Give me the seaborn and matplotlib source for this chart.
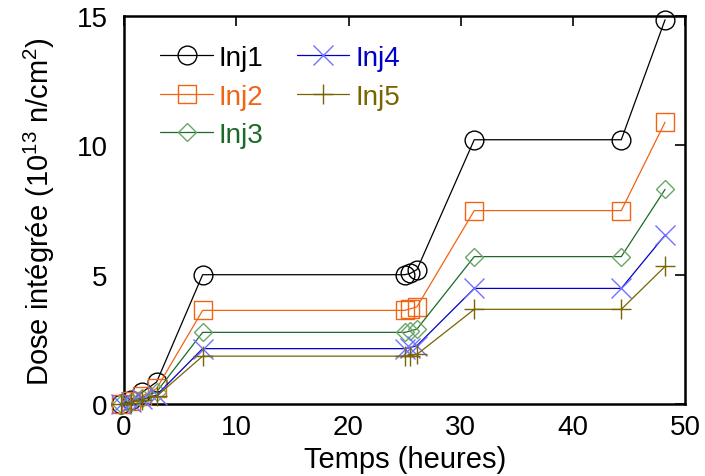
import matplotlib
matplotlib.use("Agg")
import matplotlib.pyplot as plt
import seaborn as sns
import pandas as pd
from matplotlib.lines import Line2D

# ---- data ----
temps = [-0.3, 0.6, 1.6, 2.9, 7.0, 25.0, 25.5, 26.1, 31.2, 44.3, 48.2]
inj1 = [0.0, 0.15, 0.45, 0.85, 5.0, 5.0, 5.05, 5.2, 10.22, 10.22, 14.86]
inj2 = [0.0, 0.10, 0.30, 0.60, 3.62, 3.62, 3.68, 3.76, 7.48, 7.48, 10.9]
inj3 = [0.0, 0.08, 0.25, 0.47, 2.77, 2.77, 2.82, 2.9, 5.70, 5.70, 8.30]
inj4 = [0.0, 0.06, 0.18, 0.34, 2.14, 2.14, 2.18, 2.26, 4.47, 4.47, 6.53]
inj5 = [0.0, 0.05, 0.16, 0.30, 1.85, 1.85, 1.87, 1.92, 3.66, 3.66, 5.32]
series_names = ["Inj1", "Inj2", "Inj3", "Inj4", "Inj5"]
x_ticks = [0, 10, 20, 30, 40, 50]
y_ticks = [0, 5, 10, 15]

sns.set_theme(style="white")
plt.rcParams["font.family"] = ["Liberation Sans", "DejaVu Sans"]
plt.rcParams["mathtext.fontset"] = "custom"
plt.rcParams["mathtext.rm"] = "Liberation Sans"
plt.rcParams["mathtext.it"] = "Liberation Sans"
plt.rcParams["text.color"] = "black"
plt.rcParams["axes.labelcolor"] = "black"

fig = plt.figure(figsize=(7.05, 4.77), dpi=100)
ax = fig.add_axes([0.176, 0.151, 0.796, 0.813])

values = [inj1, inj2, inj3, inj4, inj5]
line_colors = ["#000000", "#f06414", "#1a6b2a", "#0000c8", "#786400"]
marker_colors = ["#000000", "#f06414", "#6aa66a", "#7070ff", "#786400"]
text_colors = ["#000000", "#f06414", "#1a6b2a", "#0000c8", "#786400"]
markers = ["o", "s", "D", "x", "+"]
msizes = [13.5, 13.0, 9.5, 14.0, 14.0]

for name, vals, lc, mc, m, ms in zip(series_names, values, line_colors,
                                     marker_colors, markers, msizes):
    df = pd.DataFrame({"t": temps, "v": vals})
    sns.lineplot(data=df, x="t", y="v", ax=ax, color=lc, lw=0.9,
                 marker=m, markersize=ms, markerfacecolor="none",
                 markeredgecolor=mc, markeredgewidth=1.0, legend=False,
                 estimator=None, sort=False, clip_on=False)

ax.set_xlim(0, 50)
ax.set_ylim(0, 15)
ax.set_xticks(x_ticks)
ax.set_yticks(y_ticks)
ax.tick_params(direction="in", length=7, width=1.2, top=True, right=True,
               labelsize=20, colors="black")
ax.tick_params(axis="x", pad=7)
ax.tick_params(axis="y", pad=12)
for sp in ax.spines.values():
    sp.set_linewidth(1.8)
    sp.set_color("black")
    sp.set_zorder(1)
ax.set_xlabel("Temps (heures)", fontsize=21, labelpad=4)
ax.set_ylabel("Dose intégrée (10$^{13}$ n/cm$^{2}$)", fontsize=21, labelpad=14)

handles = []
for lc, mc, m, ms in zip(line_colors, marker_colors, markers, msizes):
    handles.append(Line2D([0], [0], color=lc, lw=0.9, marker=m, markersize=ms,
                          markerfacecolor="none", markeredgecolor=mc,
                          markeredgewidth=1.0))
ax.legend(handles, series_names, ncol=2, frameon=False, loc="upper left",
          bbox_to_anchor=(0.02, 0.99), fontsize=20, handlelength=1.9,
          handletextpad=0.2, columnspacing=1.2, labelspacing=0.45,
          labelcolor=text_colors, borderpad=0.4)

fig.savefig("out.png", dpi=100)
